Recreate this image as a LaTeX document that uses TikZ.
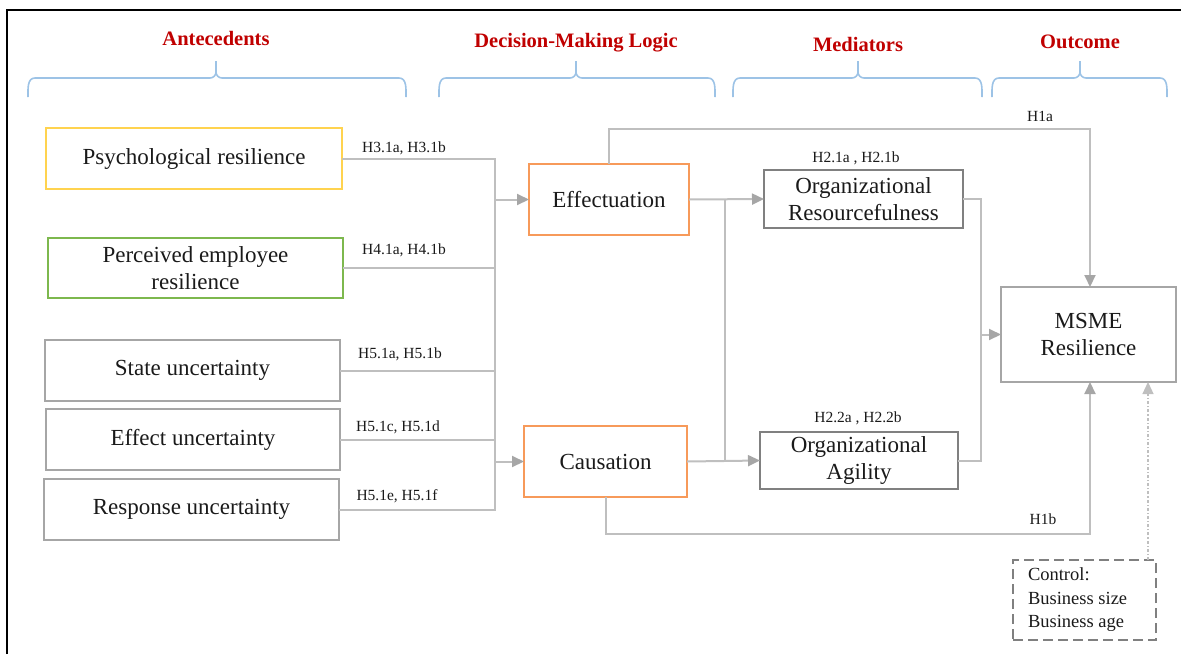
\documentclass[tikz,border=0pt]{standalone}
\usepackage{fontspec}
\setmainfont{Liberation Serif}
\usetikzlibrary{arrows.meta,calc}
\definecolor{hdred}{HTML}{C00000}
\definecolor{bracecol}{HTML}{9DC3E6}
\definecolor{linegray}{HTML}{BFBFBF}
\definecolor{tipgray}{HTML}{A6A6A6}
\definecolor{boxgray}{HTML}{A6A6A6}
\definecolor{darkgray}{HTML}{808080}
\definecolor{yellowb}{HTML}{FFD34F}
\definecolor{greenb}{HTML}{7DB84E}
\definecolor{orangeb}{HTML}{F79A5A}
\definecolor{txt}{HTML}{1A1A1A}

% curly group brace: left x, middle x, right x
\newcommand{\groupbrace}[3]{%
  \draw[bracecol, line width=1.6pt]
    (#1,97) to[out=90,in=180] (#1+7,78) -- (#2-6,78) to[out=0,in=-90] (#2,72) -- (#2,61)
    (#2,72) to[out=-90,in=180] (#2+6,78) -- (#3-7,78) to[out=0,in=90] (#3,97);}

\tikzset{
  box/.style={draw=boxgray, line width=2pt, inner sep=0pt, outer sep=0pt,
    align=center, text=txt, font=\fontsize{23}{27.5}\selectfont},
  medbox/.style={box, draw=darkgray},
  logicbox/.style={box, draw=orangeb},
  heading/.style={text=hdred, font=\fontsize{20.5}{24}\selectfont\bfseries},
  hyp/.style={text=txt, font=\fontsize{15.5}{18}\selectfont, inner sep=0pt},
  conn/.style={draw=linegray, line width=2pt},
  arr/.style={conn, -{Triangle[length=12pt,width=11pt,color=tipgray,fill=tipgray]}},
}

\begin{document}
\begin{tikzpicture}[x=1pt,y=-1pt]
\useasboundingbox (0,0) rectangle (1181,654);

% outer frame
\draw[black, line width=2pt] (7,654) -- (7,10) -- (1181,10);

% column headings
\node[heading] (hant) at (216,38) {Antecedents};
\node[heading] (hdml) at (576,43) {Decision-Making Logic};
\node[heading] (hmed) at (858,44) {Mediators};
\node[heading] (hout) at (1080,42) {Outcome};
\groupbrace{28}{216}{406}
\groupbrace{439}{576}{715}
\groupbrace{733}{858}{982}
\groupbrace{992}{1080}{1167}

% antecedents
\node[box, draw=yellowb, minimum width=296, minimum height=61] (psy) at (194,158.5) {Psychological resilience};
\node[box, draw=greenb, minimum width=295, minimum height=60] (per) at (195.5,268) {Perceived employee\\resilience};
\node[box, minimum width=295, minimum height=61] (sta) at (192.5,370.5) {State uncertainty};
\node[box, minimum width=294, minimum height=61] (efu) at (193,439.5) {Effect uncertainty};
\node[box, minimum width=295, minimum height=61] (rsu) at (191.5,509.5) {Response uncertainty};

% decision-making logic
\node[logicbox, minimum width=160, minimum height=71] (effect) at (609,199.5) {Effectuation};
\node[logicbox, minimum width=163, minimum height=71] (caus) at (605.5,461.5) {Causation};

% mediators
\node[medbox, minimum width=199, minimum height=58] (orgr) at (863.5,199) {Organizational\\Resourcefulness};
\node[medbox, minimum width=198, minimum height=57] (orga) at (859,460.5) {Organizational\\Agility};

% outcome
\node[box, minimum width=175, minimum height=95] (msme) at (1088.5,334.5) {MSME\\Resilience};

% control variables
\node[box, dashed, dash pattern=on 10pt off 5pt, draw=darkgray, minimum width=143, minimum height=80,
      align=left, font=\fontsize{18.5}{23.5}\selectfont] (ctrl) at (1084.5,600)
  {\parbox{113pt}{Control:\\Business size\\Business age}};

% antecedents -> decision-making logic
\coordinate (bus) at (495,0);
\draw[conn] (psy.east) -| (bus |- rsu.east) -- (rsu.east);
\draw[conn] (per.east) -- (per.east -| bus);
\draw[conn] (sta.east) -- (sta.east -| bus);
\draw[conn] (efu.east) -- (efu.east -| bus);
\draw[arr] (bus |- effect.west) -- (effect.west);
\draw[arr] (bus |- caus.west) -- (caus.west);

\node[hyp] (l31) at (404,148) {H3.1a, H3.1b};
\node[hyp] (l41) at (404,250) {H4.1a, H4.1b};
\node[hyp] (l51ab) at (400,354) {H5.1a, H5.1b};
\node[hyp] (l51cd) at (398,427) {H5.1c, H5.1d};
\node[hyp] (l51ef) at (397,496) {H5.1e, H5.1f};

% decision-making logic -> mediators
\coordinate (mbus) at (725,0);
\draw[arr] (effect.east) -- (orgr.west);
\draw[arr] (caus.east) -- (orga.west);
\draw[conn] (mbus |- effect.east) -- (mbus |- caus.east);
\node[hyp] (l21) at (856,158) {H2.1a , H2.1b};
\node[hyp] (l22) at (858,418) {H2.2a , H2.2b};

% mediators -> outcome
\coordinate (rbus) at (981,0);
\draw[conn] (orgr.east) -| (rbus |- orga.east) -- (orga.east);
\draw[arr] (rbus |- msme.west) -- (msme.west);

% direct effects
\coordinate (topy) at (0,129);
\coordinate (boty) at (0,534);
\coordinate (hx) at (1090,0);
\draw[arr] (effect.north) |- (hx |- topy) -- (hx |- msme.north);
\draw[arr] (caus.south) |- (hx |- boty) -- (hx |- msme.south);
\node[hyp] (l1a) at (1040,116) {H1a};
\node[hyp] (l1b) at (1043,519) {H1b};

% control -> outcome
\coordinate (cx) at (1148,0);
\draw[draw=linegray, line width=1.2pt, dash dot,
      -{Triangle[length=12pt,width=11pt,color=linegray,fill=linegray]}]
  (cx |- ctrl.north) -- (cx |- msme.south);
\end{tikzpicture}
\end{document}
